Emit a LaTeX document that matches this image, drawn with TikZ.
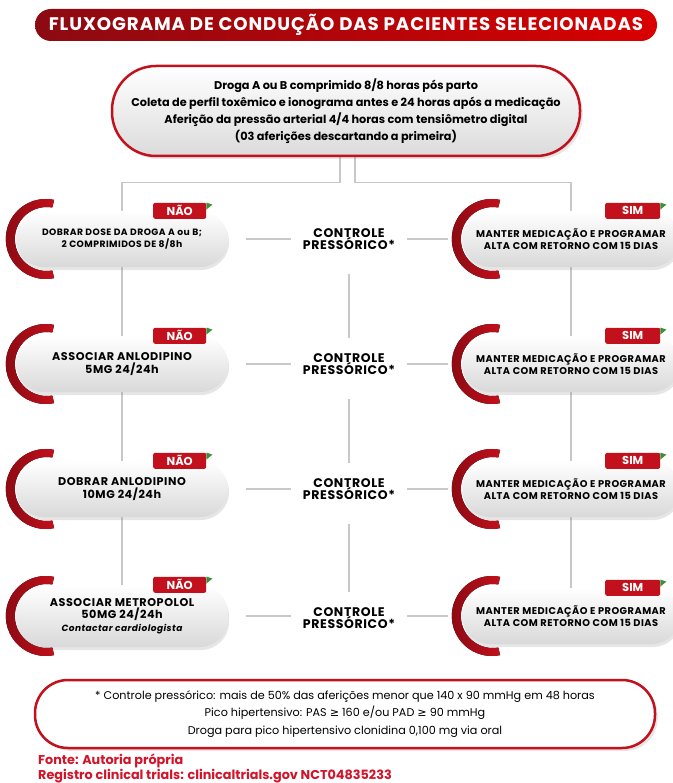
\documentclass[tikz,border=0pt]{standalone}
\usepackage{fontspec}
\setmainfont{Poppins}
\newfontfamily\largo{Poppins}[LetterSpace=5]
\newfontfamily\simbolo{DejaVu Sans}
\usetikzlibrary{shadows,calc,backgrounds}

\definecolor{vermelho}{HTML}{C2101C}
\definecolor{vinho}{HTML}{8C0A12}
\definecolor{cinzalinha}{HTML}{C8C8C8}
\definecolor{fonte}{HTML}{D2142A}
\definecolor{folha}{HTML}{3E8E3A}

\begin{document}
\begin{tikzpicture}[x=1pt,y=-1pt,font=\bfseries]
    \tikzset{
      pilula/.style={rounded corners=28pt, top color=white, bottom color=black!15,
        minimum height=56pt, align=center, inner sep=0pt,
        drop shadow={opacity=0.2, shadow xshift=1pt, shadow yshift=-3pt}},
      naobox/.style={pilula, minimum width=212pt},
      simbox/.style={pilula, minimum width=218pt},
      aba/.style={fill=vermelho, text=white, minimum height=16pt, inner sep=0pt,
        rounded corners=2pt, font=\bfseries\fontsize{11.5}{11.5}\selectfont},
      arco/.style={left color=vinho, right color=vermelho},
      linha/.style={draw=cinzalinha, line width=1.1pt},
      controle/.style={align=center, inner sep=0pt, font=\largo\bfseries\fontsize{12.5}{12.5}\selectfont}
    }
    \useasboundingbox (0,0) rectangle (672,783);
    % title banner
    \node[rounded corners=16pt, left color=vinho, right color=red!85!black,
      minimum width=622pt, minimum height=32pt, text=white,
      font=\largo\bfseries\fontsize{18.2}{18}\selectfont] (titulo) at (346,25)
      {FLUXOGRAMA DE CONDUÇÃO DAS PACIENTES SELECIONADAS};
    % starting box
    \node[draw=vermelho, line width=2.5pt, rounded corners=44pt, top color=white,
      bottom color=black!14, minimum width=468pt, minimum height=90pt, align=center,
      drop shadow={opacity=0.2, shadow yshift=-3pt},
      font=\bfseries\fontsize{11.3}{17}\selectfont] (inicio) at (346,111)
      {Droga A ou B comprimido 8/8 horas pós parto\\
       Coleta de perfil toxêmico e ionograma antes e 24 horas após a medicação\\
       Aferição da pressão arterial 4/4 horas com tensiômetro digital\\
       (03 aferições descartando a primeira)};
    % NAO column
    \node[naobox, font=\largo\bfseries\fontsize{9.2}{12}\selectfont] (nao1) at (122,239)
      {DOBRAR DOSE DA DROGA A ou B;\\2 COMPRIMIDOS DE 8/8h};
    \node[naobox, font=\largo\bfseries\fontsize{11.2}{13.5}\selectfont] (nao2) at (122,364)
      {ASSOCIAR ANLODIPINO\\5MG 24/24h};
    \node[naobox, font=\largo\bfseries\fontsize{11.2}{13.5}\selectfont] (nao3) at (122,489)
      {DOBRAR ANLODIPINO\\10MG 24/24h};
    \node[naobox, minimum height=62pt, font=\largo\bfseries\fontsize{11.2}{12.5}\selectfont] (nao4) at (122,616)
      {ASSOCIAR METROPOLOL\\50MG 24/24h\\{\itshape\fontsize{9}{11}\selectfont Contactar cardiologista}};
    % SIM column
    \foreach \i/\y in {1/239, 2/364, 3/489, 4/616}
      \node[simbox, font=\largo\bfseries\fontsize{9.8}{12.5}\selectfont] (sim\i) at (571,\y)
        {MANTER MEDICAÇÃO E PROGRAMAR\\ALTA COM RETORNO COM 15 DIAS};
    % control column
    \foreach \i/\y in {1/239, 2/364, 3/489, 4/618}
      \node[controle] (ctrl\i) at (349,\y) {CONTROLE\\PRESSÓRICO*};
    % red arcs and tabs
    \foreach \n in {nao1,nao2,nao3,nao4,sim1,sim2,sim3,sim4} {
      \coordinate (c) at ([xshift=30pt]\n.west);
      \coordinate (d) at ([xshift=31pt]\n.west);
      \fill[arco] (c) ++(78:40pt) arc[start angle=78, end angle=282, radius=40pt]
        -- ($(d)+(280:32pt)$) arc[start angle=280, end angle=80, radius=32pt] -- cycle;
    }
    \foreach \i in {1,...,4} {
      \node[aba, minimum width=53pt] (abanao\i) at ([xshift=-48.5pt]nao\i.north east) {NÃO};
      \node[aba, minimum width=55pt] (abasim\i) at ([xshift=-47.5pt]sim\i.north east) {SIM};
      \fill[folha] (abanao\i.north east) -- ++(0,7) -- ++(6,-5) -- cycle;
      \fill[folha] (abasim\i.north east) -- ++(0,7) -- ++(6,-5) -- cycle;
    }
    % connectors, behind the boxes
    \begin{scope}[on background layer]
      \draw[linha] ([xshift=-6pt]inicio.south) -- ++(0,25) -| ([yshift=-8pt]nao1.north);
      \draw[linha] ([xshift=9pt]inicio.south) -- ++(0,25) -| ([yshift=-8pt]sim1.north);
      \foreach \a/\b in {1/2, 2/3, 3/4} {
        \draw[linha] (nao\a.south) -- (nao\b.north);
        \draw[linha] (sim\a.south) -- (sim\b.north);
        \draw[linha, shorten <=24pt, shorten >=15pt] (ctrl\a.south) -- (ctrl\b.north);
      }
      \foreach \i in {1,...,4} {
        \draw[linha, shorten <=18pt, shorten >=12pt] (nao\i.east) -- (nao\i.east -| ctrl\i.west);
        \draw[linha, shorten <=12pt, shorten >=14pt] (sim\i.west -| ctrl\i.east) -- (sim\i.west);
      }
    \end{scope}
    % footnote box
    \node[draw=vermelho, line width=2.5pt, rounded corners=33pt, fill=white,
      minimum width=620pt, minimum height=68pt, align=center,
      drop shadow={opacity=0.2, shadow yshift=-3pt},
      font=\fontsize{11.2}{17.5}\selectfont] (nota) at (345,714)
      {* Controle pressórico: mais de 50\% das aferições menor que 140 x 90 mmHg em 48 horas\\
       Pico hipertensivo: PAS {\simbolo ≥} 160 e/ou PAD {\simbolo ≥} 90 mmHg\\
       Droga para pico hipertensivo clonidina 0,100 mg via oral};
    \node[anchor=north west, align=left, text=fonte, inner sep=0pt,
      font=\bfseries\fontsize{12.8}{13.5}\selectfont] (fonte) at (38,754)
      {Fonte: Autoria própria\\Registro clinical trials: clinicaltrials.gov NCT04835233};
\end{tikzpicture}
\end{document}
